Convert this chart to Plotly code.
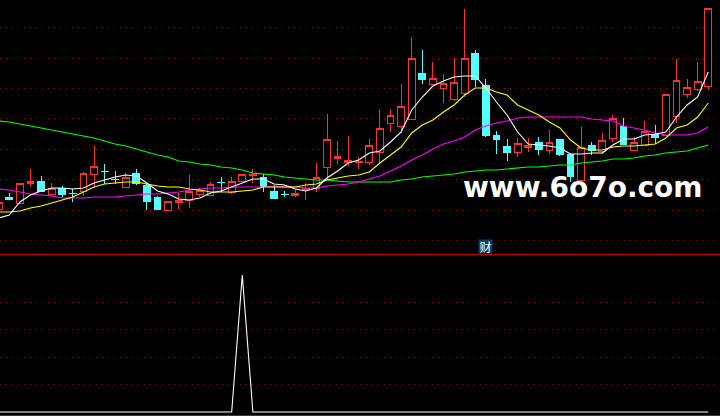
import plotly.graph_objects as go

sessions = list(range(68))

opens = [45,57,51,71,73,60,66,61,63,80,83,75,67,81,69,57,44,52,54,60,59,72,62,73,
         79,77,63,60,59,65,66,87,96,92,92,92,102,131,128,135,181,170,166,155,161,201,
         169,119,108,102,107,112,104,115,100,74,109,103,116,128,104,109,120,119,138,160,165,168]
closes = [52,55,71,73,63,66,60,60.5,81,88,82.5,74.5,77,71,53,45,53,54,63,64,70,71.5,73,80,
          80,68,56,59.5,61,66,77,115,98,94,93,109,126,139,148,196,175,176,171,172,196,175,
          119,115,102,111,109,105,112,100,78,107,104,114,136,110,112,123,117,160,174,167,173,246]
highs = [52,61,71,85,78,71,68,65,82,108,90,83,81,85,70,58,53,61,79,66,72,77,77,80,
         85,80,69,63,64,71,91,140,113,118,97,115,145,145,170,217,204,192,180,196,245,204,
         175,123,115,116,116,117,124,115,100,127,112,121,139,136,117,133,129,160,195,175,192,246]
lows = [45,55,51,67,63,59,57,52,58,66,70,70,66,69,44,45,44,45,46,57,58,62,60,73,
        71,62,55,57,57,54,62,75,90,88,85,89,91,122,121,135,170,170,151,153,157,167,
        117,100,93,97,102,99,100,98,72,74,99,100,112,110,103,109,110,119,131,156,163,164]

ma5 = [36,39,52,59,63,66,66,65,66,71,74,77,79,78,71,63,60,55,54,56,61,63,67,71,
       75,75,70,69,65,63,66,76,83,91,94,101,103,112,122,144,157,168,173,177,178,178,
       166,152,139,122,110,109,108,106,100,100,101,101,109,115,115,119,120,122,137,149,157,182]
ma10 = [42,42,43,46,48,51,54,57,62,67,70,71,72,72,70,68,67,67,65,64,62,62,62,63,
        64,67,67,67,67,69,70,74,76,78,79,82,91,99,107,121,129,134,142,149,159,166,
        166,162,159,149,144,139,132,126,114,106,104,104,107,108,108,109,110,116,126,129,137,151]
ma20 = [65,64,62,60,59,58,56,56,56,57,57,57,58,59,60,60,61,62,64,65,66,66,67,67,
        67,67,68,67,67,66,66,68,69,70,72,75,78,83,88,94,99,105,110,113,117,124,
        128,131,133,136,137,137,137,137,137,137,135,134,133,128,126,124,121,119,119,119,121,127]
ma60 = [133,132,130,128,126,124,122,120,118,116,113,110,108,105,102,99,97,93,92,90,89,87,86,84,
        81,80,79,77,76,75,74,74,73,72,72,72,72,72,74,75,77,78,79,80,82,83,
        84,84,85,86,87,87,88,89,89,91,92,93,95,95,96,98,99,101,102,103,106,109]

signal = [0]*23 + [100] + [0]*44

price_levels = [13.5, 43.5, 74.5, 104.5, 135.5, 165.5, 195.5, 226.5]
signal_levels = [20, 40, 60, 80]

RED = "#ff3232"
CYAN = "#54ffff"
GRID = "#a80000"

fig = go.Figure()
fig.add_trace(go.Candlestick(
    x=sessions, open=opens, high=highs, low=lows, close=closes,
    whiskerwidth=0,
    increasing=dict(line=dict(color=RED, width=1), fillcolor="#000000"),
    decreasing=dict(line=dict(color=CYAN, width=1), fillcolor=CYAN),
    showlegend=False, hoverinfo="skip",
))
for values, colour in [(ma60, "#00ff00"), (ma20, "#ff00ff"), (ma10, "#ffff00"), (ma5, "#ffffff")]:
    fig.add_trace(go.Scatter(x=sessions, y=values, mode="lines",
                             line=dict(color=colour, width=1.1), showlegend=False, hoverinfo="skip"))
fig.add_trace(go.Scatter(x=sessions, y=signal, yaxis="y2", mode="lines",
                         line=dict(color="#ffffff", width=1.1), showlegend=False, hoverinfo="skip"))

fig.update_layout(
    width=720, height=416,
    margin=dict(l=0, r=0, t=0, b=0),
    paper_bgcolor="#000000", plot_bgcolor="#000000",
    boxgap=0.36, boxgroupgap=0,
    xaxis=dict(range=[0.122, 68.11], showgrid=False, zeroline=False, showticklabels=False,
               ticks="", rangeslider=dict(visible=False), anchor="y2"),
    yaxis=dict(domain=[162/416, 1], range=[0, 254], tickvals=price_levels, showticklabels=False,
               ticks="", showgrid=True, gridcolor=GRID, griddash="1px,5px", gridwidth=1, zeroline=False),
    yaxis2=dict(domain=[0, 161/416], range=[-2.92, 114.6], tickvals=signal_levels, showticklabels=False,
                ticks="", showgrid=True, gridcolor=GRID, griddash="1px,5px", gridwidth=1, zeroline=False),
    shapes=[
        dict(type="line", xref="paper", yref="paper", x0=0, x1=1, y0=1-254.5/416, y1=1-254.5/416,
             line=dict(color="#c00000", width=1)),
        dict(type="line", xref="paper", yref="paper", x0=0, x1=1, y0=1-415.5/416, y1=1-415.5/416,
             line=dict(color="#c00000", width=1)),
    ],
    annotations=[
        dict(text="<b>www.6o7o.com</b>", xref="paper", yref="paper", x=583/720, y=1-187/416,
             xanchor="center", yanchor="middle", showarrow=False,
             font=dict(family="DejaVu Sans", size=28, color="#ffffff")),
        dict(text="财", xref="paper", yref="paper", x=485.5/720, y=1-246.5/416,
             xanchor="center", yanchor="middle", showarrow=False, bgcolor="#0a3c6e", borderpad=0,
             width=13, height=13,
             font=dict(family="Noto Sans CJK SC", size=12, color="#ffffff")),
    ],
)

crisp = (
    "document.body.style.margin='0';document.body.style.background='#000';"
    "document.documentElement.style.overflow='hidden';"
    "var st=document.createElement('style');"
    "st.textContent='.plot path,.plot .js-line,.boxlayer path{shape-rendering:crispEdges !important;}';"
    "document.head.appendChild(st);"
)
fig.write_html("out.html", post_script=crisp, config={"displayModeBar": False})
